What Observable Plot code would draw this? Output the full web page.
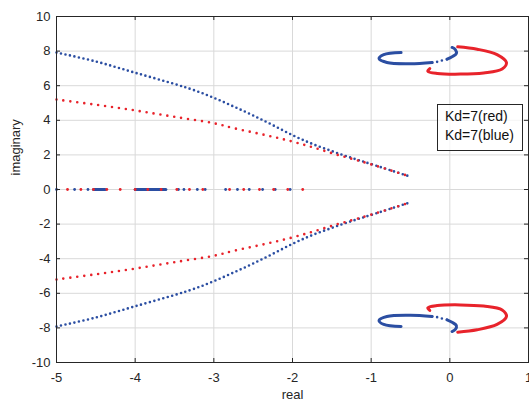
<!DOCTYPE html>
<html>
<head>
<meta charset="utf-8">
<script src="https://cdn.jsdelivr.net/npm/d3@7"></script>
<script src="https://cdn.jsdelivr.net/npm/@observablehq/plot@0.6"></script>
<style>
  html, body { margin: 0; padding: 0; background: white; }
  #wrap { position: relative; width: 529px; height: 401px; }
  #legend { position: absolute; left: 437px; top: 104px; width: 84px; height: 45px;
    border: 1px solid #262626; background: rgba(255,255,255,0.75);
    font-family: "Liberation Sans", Arial, sans-serif; font-size: 14px; color: #111; }
  #legend div { position: absolute; left: 7px; white-space: nowrap; }
</style>
</head>
<body>
<div id="wrap"><div id="legend"><div style="top:3px">Kd=7(red)</div><div style="top:22px">Kd=7(blue)</div></div></div>
<script>
// ---- data ----
const realTicks = [-5, -4, -3, -2, -1, 0, 1];
const imagTicks = [-10, -8, -6, -4, -2, 0, 2, 4, 6, 8, 10];

const blueUpper = [[-5, 7.92], [-4.5, 7.4], [-4, 6.75], [-3.5, 6.1], [-3.25, 5.74], [-3, 5.3], [-2.75, 4.8], [-2.5, 4.28], [-2.25, 3.72], [-2, 3.14], [-1.75, 2.64], [-1.5, 2.22], [-1.25, 1.83], [-1, 1.47], [-0.54, 0.8]];
const blueLower = [[-5, -7.92], [-4.5, -7.4], [-4, -6.75], [-3.5, -6.1], [-3.25, -5.74], [-3, -5.3], [-2.75, -4.8], [-2.5, -4.28], [-2.25, -3.72], [-2, -3.14], [-1.75, -2.64], [-1.5, -2.22], [-1.25, -1.83], [-1, -1.47], [-0.54, -0.8]];
const redUpper = [[-5, 5.2], [-4.5, 4.9], [-4, 4.57], [-3.5, 4.2], [-3, 3.83], [-2.75, 3.55], [-2.32, 3.12], [-2, 2.77], [-1.73, 2.42], [-1.47, 2.06], [-1.22, 1.74], [-0.99, 1.44], [-0.54, 0.8]];
const redLower = [[-5, -5.2], [-4.5, -4.9], [-4, -4.57], [-3.5, -4.2], [-3, -3.83], [-2.75, -3.55], [-2.32, -3.12], [-2, -2.77], [-1.73, -2.42], [-1.47, -2.06], [-1.22, -1.74], [-0.99, -1.44], [-0.54, -0.8]];

const blueLoopUpperA = [[-0.62, 7.92], [-0.84, 7.8], [-0.9, 7.57], [-0.8, 7.34], [-0.5, 7.27], [-0.225, 7.34]];
const blueLoopUpperDots = [[-0.225, 7.34], [-0.16, 7.38], [-0.1, 7.46], [-0.035, 7.53]];
const blueLoopUpperB = [[-0.035, 7.53], [0.028, 7.67], [0.083, 7.86], [0.07, 8.09], [0.028, 8.21]];
const blueLoopLowerA = [[-0.62, -7.92], [-0.84, -7.8], [-0.9, -7.57], [-0.8, -7.34], [-0.5, -7.27], [-0.225, -7.34]];
const blueLoopLowerDots = [[-0.225, -7.34], [-0.16, -7.38], [-0.1, -7.46], [-0.035, -7.53]];
const blueLoopLowerB = [[-0.035, -7.53], [0.028, -7.67], [0.083, -7.86], [0.07, -8.09], [0.028, -8.21]];
const redLoopUpper = [[0.1, 8.25], [0.347, 8.11], [0.6, 7.8], [0.72, 7.34], [0.665, 6.96], [0.43, 6.74], [0.135, 6.67], [-0.16, 6.71], [-0.28, 6.84], [-0.255, 6.99]];
const redLoopLower = [[0.1, -8.25], [0.347, -8.11], [0.6, -7.8], [0.72, -7.34], [0.665, -6.96], [0.43, -6.74], [0.135, -6.67], [-0.16, -6.71], [-0.28, -6.84], [-0.255, -6.99]];

const realAxisRed = [-4.86, -4.69, -4.53, -4.36, -4.19, -4.0, -3.84, -3.67, -3.47, -3.31, -3.14, -2.8, -2.62, -2.42, -2.24, -2.06, -1.87];
const realAxisBlue = [-5.0, -4.77, -4.6, -3.45, -3.38, -3.21, -3.11, -2.85, -2.7, -2.55, -2.38, -2.22, -2.03];
const realAxisBlueClusters = [[[-4.53, 0], [-4.38, 0]], [[-4.0, 0], [-3.61, 0]]];

// ---- styles ----
const BLUE = "#2b4ea2";
const RED = "#e8232b";
const GRID = "#d9d9d9";
const AX = "#262626";

const dotted = (data, color, gap) => Plot.line(data, {x: d => d[0], y: d => d[1], stroke: color, strokeWidth: 2.6, strokeLinecap: "round", strokeDasharray: `0 ${gap}`, curve: "catmull-rom"});
const solid = (data, color) => Plot.line(data, {x: d => d[0], y: d => d[1], stroke: color, strokeWidth: 3, strokeLinecap: "round", curve: "catmull-rom"});

const chart = Plot.plot({
  width: 529, height: 401,
  marginLeft: 56, marginRight: 1, marginTop: 16, marginBottom: 39,
  x: {domain: [-5, 1]},
  y: {domain: [-10, 10]},
  style: {fontFamily: "'Liberation Sans', Arial, sans-serif", fontSize: "13px", color: AX, background: "white", overflow: "visible"},
  marks: [
    Plot.ruleX(realTicks, {x: d => d, stroke: GRID, strokeWidth: 1}),
    Plot.ruleY(imagTicks, {y: d => d, stroke: GRID, strokeWidth: 1}),
    // blue
    dotted(blueUpper, BLUE, 4.6),
    dotted(blueLower, BLUE, 4.6),
    solid(blueLoopUpperA, BLUE), dotted(blueLoopUpperDots, BLUE, 5), solid(blueLoopUpperB, BLUE),
    solid(blueLoopLowerA, BLUE), dotted(blueLoopLowerDots, BLUE, 5), solid(blueLoopLowerB, BLUE),
    Plot.dot(realAxisBlue, {x: d => d, y: 0, r: 1.4, fill: BLUE, stroke: null}),
    ...realAxisBlueClusters.map(c => Plot.line(c, {x: d => d[0], y: d => d[1], stroke: BLUE, strokeWidth: 3})),
    // red
    dotted(redUpper, RED, 7),
    dotted(redLower, RED, 7),
    solid(redLoopUpper, RED),
    solid(redLoopLower, RED),
    Plot.dot(realAxisRed, {x: d => d, y: 0, r: 1.4, fill: RED, stroke: null}),
    // frame & inward ticks
    Plot.frame({stroke: AX, strokeWidth: 1}),
    Plot.ruleX(realTicks, {x: d => d, y1: -10, y2: -10, insetBottom: 4, stroke: AX}),
    Plot.ruleX(realTicks, {x: d => d, y1: 10, y2: 10, insetTop: 4, stroke: AX}),
    Plot.ruleY(imagTicks, {y: d => d, x1: -5, x2: -5, insetLeft: 4, stroke: AX}),
    Plot.ruleY(imagTicks, {y: d => d, x1: 1, x2: 1, insetRight: 4, stroke: AX}),
    Plot.axisX(realTicks, {tickSize: 0, tickPadding: 10, tickFormat: d => String(d), label: null, fontSize: 13}),
    Plot.axisY(imagTicks, {tickSize: 0, tickPadding: 6, tickFormat: d => String(d), label: null, fontSize: 13}),
    Plot.text(["real"], {text: d => d, frameAnchor: "bottom", dy: 36, fontSize: 13}),
    Plot.text(["imaginary"], {text: d => d, frameAnchor: "left", dx: -41, dy: -14, rotate: -90, fontSize: 13})
  ]
});
document.getElementById("wrap").prepend(chart);
</script>
</body>
</html>
